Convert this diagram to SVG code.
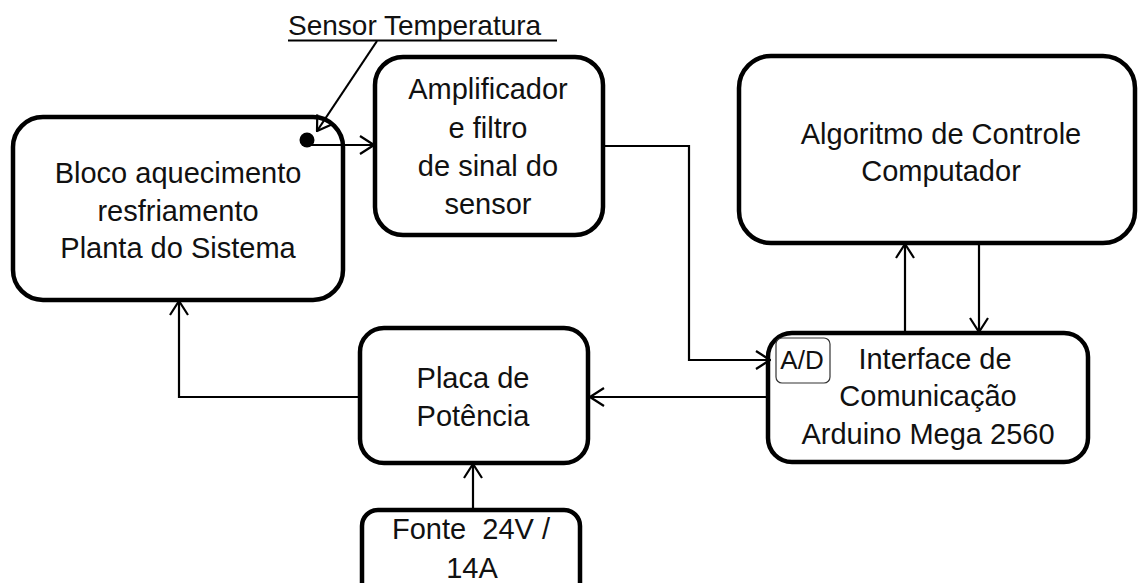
<svg xmlns="http://www.w3.org/2000/svg" width="1138" height="583" viewBox="0 0 1138 583">
<style>
.box{fill:#fff;stroke:#000;stroke-width:4.5}
.t{font-family:"Liberation Sans",Arial,sans-serif;font-size:29px;fill:#111;text-anchor:middle}
.c{fill:none;stroke:#000;stroke-width:2.2}
</style>
<defs>
<marker id="ah" viewBox="0 0 16 20" refX="15" refY="10" markerWidth="16" markerHeight="20" markerUnits="userSpaceOnUse" orient="auto">
<path d="M1,1 L15,10 L1,19" fill="none" stroke="#000" stroke-width="2.2"/>
</marker>
</defs>
<rect width="1138" height="583" fill="#fff"/>
<g id="bloco">
<rect class="box" x="13" y="117" width="330" height="183" rx="30"/>
<text class="t" x="178" y="183">Bloco aquecimento</text>
<text class="t" x="178" y="221">resfriamento</text>
<text class="t" x="178" y="258">Planta do Sistema</text>
</g>
<g id="amplificador">
<rect class="box" x="375" y="57" width="228" height="178" rx="28"/>
<text class="t" x="488" y="99">Amplificador</text>
<text class="t" x="488" y="138">e filtro</text>
<text class="t" x="488" y="176">de sinal do</text>
<text class="t" x="488" y="214">sensor</text>
</g>
<g id="algoritmo">
<rect class="box" x="739" y="56" width="396" height="187" rx="32"/>
<text class="t" x="941" y="144">Algoritmo de Controle</text>
<text class="t" x="941" y="181">Computador</text>
</g>
<g id="interface">
<rect class="box" x="768" y="333" width="320" height="129" rx="24"/>
<rect x="776" y="338" width="54" height="45" rx="6" fill="#fff" stroke="#333" stroke-width="1.2"/>
<text class="t" x="802" y="369" style="font-size:26px">A/D</text>
<text class="t" x="935" y="369">Interface de</text>
<text class="t" x="928" y="406">Comunicação</text>
<text class="t" x="928" y="444">Arduino Mega 2560</text>
</g>
<g id="placa">
<rect class="box" x="360" y="328" width="228" height="135" rx="24"/>
<text class="t" x="473" y="388">Placa de</text>
<text class="t" x="473" y="426">Potência</text>
</g>
<g id="fonte">
<rect class="box" x="362" y="510" width="218" height="90" rx="16"/>
<text class="t" x="471" y="539" xml:space="preserve">Fonte  24V /</text>
<text class="t" x="472" y="578">14A</text>
</g>
<g id="sensor">
<text x="288" y="35" style="font-family:'Liberation Sans',Arial,sans-serif;font-size:28px;fill:#111">Sensor Temperatura</text>
<line x1="288" y1="40.5" x2="557" y2="40.5" stroke="#000" stroke-width="2"/>
<circle cx="307" cy="140" r="7.5" fill="#000"/>
</g>
<g id="connectors">
<path class="c" d="M377,41 L317,131" marker-end="url(#ah)"/>
<path class="c" d="M307,145 L374,145" marker-end="url(#ah)"/>
<path class="c" d="M603,146 L689,146 L689,360 L770,360" marker-end="url(#ah)"/>
<path class="c" d="M905,333 L905,244" marker-end="url(#ah)"/>
<path class="c" d="M979,243 L979,332" marker-end="url(#ah)"/>
<path class="c" d="M768,397 L590,397" marker-end="url(#ah)"/>
<path class="c" d="M360,397 L179,397 L179,301" marker-end="url(#ah)"/>
<path class="c" d="M473,510 L473,464" marker-end="url(#ah)"/>
</g>
</svg>
